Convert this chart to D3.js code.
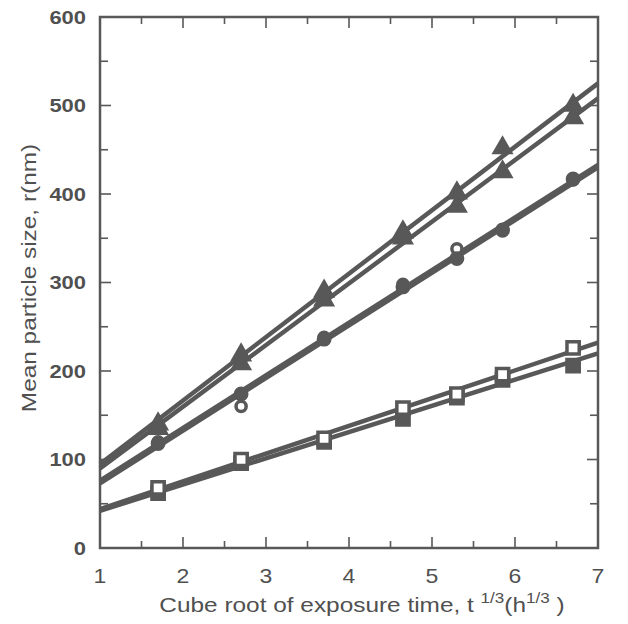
<!DOCTYPE html>
<html><head><meta charset="utf-8">
<script src="https://cdn.jsdelivr.net/npm/d3@7"></script>
<style>body{margin:0;background:#fff}svg{display:block}text{font-family:"Liberation Sans",Arial,sans-serif;fill:#505050}</style>
</head><body><svg id="c" width="628" height="624"></svg>
<script>
const xPts = [1.7, 2.7, 3.7, 4.65, 5.3, 5.85, 6.7];
const triFilled = [140, 218, 290, 357, 401, 452, 500];
const triOpen   = [135, 208, 280, 350, 386, 425, 486];
const cirFilled = [118, 174, 236, 295, 327, 359, 417];
const cirOpen   = [120, 160, 238, 298, 338, 360, 416];
const sqFilled  = [62, 96, 120, 146, 170, 190, 206];
const sqOpen    = [68, 100, 124, 158, 174, 196, 226];
// fitted lines: values at x = 1 and x = 7
const fitX = [1, 7];
const fitTriFilled = [95, 525];
const fitTriOpen   = [90, 508];
const fitCirFilled = [73, 430];
const fitCirOpen   = [76, 433];
const fitSqFilled  = [42, 220];
const fitSqOpen    = [44, 232];
const xTicks = [1,2,3,4,5,6,7];
const yTicks = [0,100,200,300,400,500,600];

const svg = d3.select("#c");
const L=100, R=598, T=17, B=548;
const x = d3.scaleLinear().domain([1,7]).range([L,R]);
const y = d3.scaleLinear().domain([0,600]).range([B,T]);
const col = "#585858";

// frame
svg.append("rect").attr("x",L).attr("y",T).attr("width",R-L).attr("height",B-T)
  .attr("fill","none").attr("stroke",col).attr("stroke-width",2.5);

// ticks (inward, on all sides)
const g = svg.append("g").attr("stroke",col).attr("stroke-width",1.6);
d3.range(1.5,7,0.5).forEach(v=>{
  const len = Number.isInteger(v)?11:7;
  g.append("line").attr("x1",x(v)).attr("x2",x(v)).attr("y1",B).attr("y2",B-len);
  g.append("line").attr("x1",x(v)).attr("x2",x(v)).attr("y1",T).attr("y2",T+len);
});
d3.range(50,600,50).forEach(v=>{
  const len = v%100===0?11:8;
  g.append("line").attr("x1",L).attr("x2",L+len).attr("y1",y(v)).attr("y2",y(v));
  g.append("line").attr("x1",R).attr("x2",R-len).attr("y1",y(v)).attr("y2",y(v));
});

// tick labels
svg.selectAll(".xl").data(xTicks).join("text")
  .attr("transform",d=>`translate(${x(d)},583) scale(1.15,1)`)
  .attr("text-anchor","middle").attr("font-size",20).text(d=>d);
svg.selectAll(".yl").data(yTicks).join("text")
  .attr("transform",d=>`translate(86,${y(d)+6.5}) scale(1.22,1)`)
  .attr("text-anchor","end").attr("font-size",18).attr("font-weight","bold").text(d=>d);

// axis titles
const xt = svg.append("text").attr("transform","translate(362,612) scale(1.22,1)")
  .attr("text-anchor","middle").attr("font-size",20);
xt.append("tspan").text("Cube root of exposure time,  t ");
xt.append("tspan").attr("font-size",14).attr("dy",-9).text("1/3");
xt.append("tspan").attr("dy",9).text("(h");
xt.append("tspan").attr("font-size",14).attr("dy",-9).text("1/3");
xt.append("tspan").attr("dy",9).text(" )");
svg.append("text").attr("transform","translate(36,278) rotate(-90) scale(1.22,1)")
  .attr("text-anchor","middle").attr("font-size",20).text("Mean particle size, r(nm)");

// fit lines
const fits = [fitTriFilled, fitTriOpen, fitCirFilled, fitCirOpen, fitSqFilled, fitSqOpen];
const line = d3.line().x(d=>x(d[0])).y(d=>y(d[1]));
fits.forEach(f=>{
  svg.append("path").attr("d",line(fitX.map((v,i)=>[v,f[i]])))
    .attr("fill","none").attr("stroke",col).attr("stroke-width",4.5);
});

// markers
const series = [
  {v:triOpen, s:d3.symbolTriangle, fill:true, size:150},
  {v:triFilled, s:d3.symbolTriangle, fill:true, size:150},
  {v:cirOpen, s:d3.symbolCircle, fill:false, size:80},
  {v:cirFilled, s:d3.symbolCircle, fill:true, size:130},
  {v:sqFilled, s:d3.symbolSquare, fill:true, size:190},
  {v:sqOpen, s:d3.symbolSquare, fill:false, size:150},
];
series.forEach(se=>{
  svg.append("g").selectAll("path").data(se.v).join("path")
    .attr("transform",(d,i)=>`translate(${x(xPts[i])},${y(d)})`)
    .attr("d",d3.symbol(se.s,se.size))
    .attr("fill",se.fill?col:"#fff").attr("stroke",col).attr("stroke-width",se.fill?2:3.5);
});
</script></body></html>
